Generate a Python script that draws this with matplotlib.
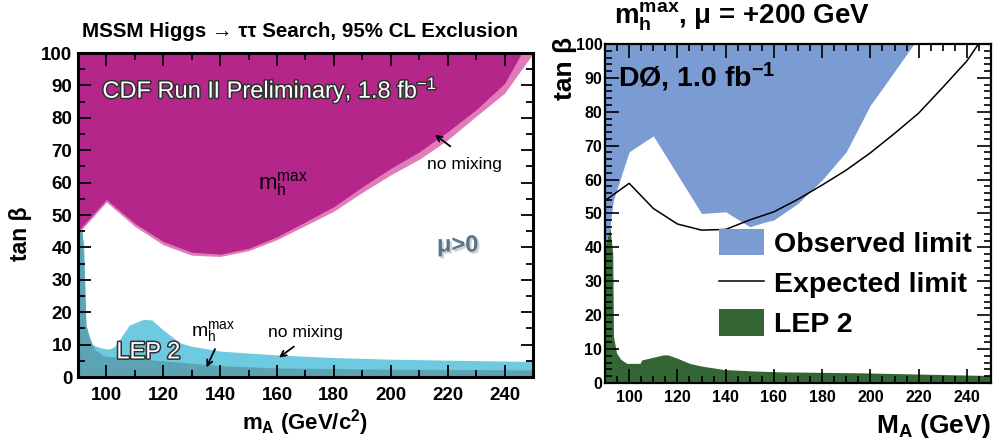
import matplotlib
matplotlib.use("Agg")
import matplotlib.pyplot as plt
import matplotlib.patheffects as pe
from matplotlib.ticker import MultipleLocator
from matplotlib.patches import Patch
from matplotlib.lines import Line2D

plt.rcParams['font.family'] = ['Liberation Sans', 'DejaVu Sans']
plt.rcParams['mathtext.fontset'] = 'custom'
plt.rcParams['mathtext.rm'] = 'Liberation Sans'
plt.rcParams['mathtext.it'] = 'Liberation Sans:italic'
plt.rcParams['mathtext.bf'] = 'Liberation Sans:bold'

# CDF tau-tau exclusion (lower edge of excluded region)
cdf_mA = [90, 91, 100, 110, 120, 130, 140, 150, 160, 170, 180, 190, 200, 210, 220, 230, 240, 246, 250]
cdf_mhmax = [45.0, 46.0, 54.8, 47.4, 41.8, 38.5, 37.9, 39.7, 43.3, 47.9, 52.6, 58.7, 64.4, 69.5, 75.7, 82.5, 90.6, 100, 100]
cdf_nomix = [44.5, 45.2, 54.0, 46.5, 40.8, 37.6, 37.2, 39.0, 42.4, 46.8, 51.2, 57.0, 62.4, 67.2, 73.2, 80.5, 87.6, 95.0, 99.8]

# LEP 2 exclusions shown in the CDF panel
lep_mA_mhmax = [90, 91.5, 92.3, 92.8, 94, 96, 99, 105, 120, 140, 160, 200, 250]
lep_mhmax = [45, 45, 30, 16, 12, 8.5, 6.5, 6.0, 5.0, 3.5, 2.8, 2.4, 2.2]
lep_mA_nomix = [90, 92, 92.8, 95, 98, 101, 103, 108, 113, 116, 120, 126, 130, 140, 160, 180, 200, 220, 250]
lep_nomix = [45, 42, 16, 10, 9, 8.6, 9.5, 16, 17.8, 17.6, 14.5, 10.5, 9.5, 8.0, 6.8, 6.0, 5.5, 5.2, 4.8]

# D0 observed / expected limits, mu = +200 GeV
d0_obs_mA = [90, 92, 93.5, 100, 110, 130, 140, 150, 157, 160, 170, 180, 190, 200, 205.5, 218]
d0_obs = [40.2, 46, 54, 68.2, 72.9, 50.0, 50.5, 46.1, 47.6, 48.1, 53, 59.9, 68.2, 82.0, 87.4, 100]
d0_exp_mA = [90, 100, 110, 120, 130, 140, 150, 160, 170, 180, 190, 200, 210, 220, 230, 240, 245]
d0_exp = [53.8, 58.9, 51.5, 46.9, 45.1, 45.3, 48.1, 50.5, 54.2, 58.4, 62.8, 67.9, 73.6, 79.6, 87.2, 95.0, 100.2]
d0_lep_mA = [90, 92, 93.2, 93.5, 94.8, 96.5, 99, 104.5, 105.2, 110, 114.2, 116, 120, 125, 130, 139, 150, 162, 196, 250]
d0_lep = [40.2, 46, 38.3, 13.7, 8.8, 7.0, 5.8, 5.8, 6.8, 7.6, 8.3, 8.3, 7.3, 5.8, 5.0, 4.0, 3.6, 3.3, 3.0, 2.2]

x_ticks = [100, 120, 140, 160, 180, 200, 220, 240]
y_ticks = [0, 10, 20, 30, 40, 50, 60, 70, 80, 90, 100]

fig = plt.figure(figsize=(9.93, 4.44), dpi=100)
ax1 = fig.add_axes([0.0785, 0.1509, 0.4583, 0.7297])
ax2 = fig.add_axes([0.6093, 0.1374, 0.3887, 0.7635])

outline = [pe.Stroke(linewidth=2.2, foreground='#303030'), pe.Normal()]

# ---- left: CDF ----
ax1.fill_between(cdf_mA, cdf_nomix, 100, color='#e07cb9', lw=0)
ax1.fill_between(cdf_mA, cdf_mhmax, 100, color='#b5268b', lw=0)
ax1.fill_between(lep_mA_nomix, 0, lep_nomix, color='#6dcae0', lw=0)
ax1.fill_between(lep_mA_mhmax, 0, lep_mhmax, color='#5ca3b3', lw=0)

ax1.set_xlim(90, 250)
ax1.set_ylim(0, 100)
ax1.set_xticks(x_ticks)
ax1.set_yticks(y_ticks)
ax1.xaxis.set_minor_locator(MultipleLocator(10))
ax1.yaxis.set_minor_locator(MultipleLocator(5))
ax1.tick_params(which='both', direction='in', top=True, right=True, width=1.3)
ax1.tick_params(which='major', length=9, labelsize=13.5, pad=4)
ax1.tick_params(axis='x', which='major', pad=7)
ax1.tick_params(which='minor', length=5)
for lab in ax1.get_xticklabels() + ax1.get_yticklabels():
    lab.set_fontweight('bold')
for s in ax1.spines.values():
    s.set_linewidth(2.2)

ax1.text(0.5, -0.094, r'$\mathbf{m}_\mathbf{A}$ (GeV/c$^\mathbf{2}$)', transform=ax1.transAxes,
         ha='center', va='top', fontsize=16, fontweight='bold')
fig.text(0.021, 0.473, 'tan β', rotation=90, ha='center', va='center', fontsize=16.5, fontweight='bold')
fig.text(0.302, 0.93, 'MSSM Higgs → ττ Search, 95% CL Exclusion', ha='center', va='center',
         fontsize=14.8, fontweight='bold')

ax1.text(98.6, 88.6, r'CDF Run II Preliminary, 1.8 fb$^{-1}$', color='white',
         fontsize=17, ha='left', va='center', path_effects=outline)
ax1.text(162, 59.5, r'm$_\mathrm{h}^\mathrm{max}$', fontsize=16, ha='center', va='center')
ax1.text(226, 65.7, 'no mixing', fontsize=12.6, ha='center', va='center')
ax1.annotate('', xy=(214.7, 75.3), xytext=(221.7, 70.7),
             arrowprops=dict(arrowstyle='->', color='black', lw=1.3))
ax1.text(223.5, 40.7, 'μ>0', color='#5b7287', fontsize=17, fontweight='bold', ha='center', va='center',
         path_effects=[pe.withSimplePatchShadow(offset=(1.5, -1.5), shadow_rgbFace='#9aa7b3', alpha=0.5)])
ax1.text(103.5, 7.6, 'LEP 2', color='white', fontsize=17, ha='left', va='center', path_effects=outline)
ax1.text(137.5, 14.0, r'm$_\mathrm{h}^\mathrm{max}$', fontsize=14, ha='center', va='center')
ax1.annotate('', xy=(134.8, 2.2), xytext=(138.6, 9.4),
             arrowprops=dict(arrowstyle='->', color='black', lw=1.3))
ax1.text(170, 13.8, 'no mixing', fontsize=12.6, ha='center', va='center')
ax1.annotate('', xy=(159.9, 5.5), xytext=(166.7, 9.9),
             arrowprops=dict(arrowstyle='->', color='black', lw=1.3))

# ---- right: D0 ----
ax2.fill_between(d0_obs_mA, d0_obs, 100, color='#7b9bd3', lw=0)
ax2.fill_between(d0_lep_mA, 0, d0_lep, color='#346634', lw=0)
ax2.plot(d0_exp_mA, d0_exp, color='black', lw=1.1)

ax2.set_xlim(90, 250)
ax2.set_ylim(0, 100)
ax2.set_xticks(x_ticks)
ax2.set_yticks(y_ticks)
ax2.xaxis.set_minor_locator(MultipleLocator(5))
ax2.yaxis.set_minor_locator(MultipleLocator(2))
ax2.tick_params(which='both', direction='in', top=True, right=True, width=1.2)
ax2.tick_params(which='major', length=10, labelsize=11.5, pad=2)
ax2.tick_params(axis='x', which='major', pad=5)
ax2.tick_params(which='minor', length=5)
for lab in ax2.get_xticklabels() + ax2.get_yticklabels():
    lab.set_fontweight('bold')
for s in ax2.spines.values():
    s.set_linewidth(1.6)

ax2.text(1.0, -0.085, r'$\mathbf{M}_\mathbf{A}$ (GeV)', transform=ax2.transAxes,
         ha='right', va='top', fontsize=19, fontweight='bold')
ax2.text(-0.105, 1.02, 'tan β', transform=ax2.transAxes, rotation=90, ha='center', va='top',
         fontsize=19, fontweight='bold')
fig.text(0.747, 0.962, r'$\mathbf{m}_\mathbf{h}^\mathbf{max}$, μ = +200 GeV', ha='center', va='center',
         fontsize=20, fontweight='bold')
ax2.text(95.5, 90.0, r'DØ, 1.0 fb$^\mathbf{-1}$', fontsize=20.5, fontweight='bold', ha='left', va='center')

handles = [Patch(facecolor='#7b9bd3', edgecolor='none'),
           Line2D([0], [0], color='black', lw=1.1),
           Patch(facecolor='#346634', edgecolor='none')]
leg = ax2.legend(handles, ['Observed limit', 'Expected limit', 'LEP 2'], loc='upper left',
                 bbox_to_anchor=(0.295, 0.455), frameon=False, fontsize=20.5,
                 handlelength=1.6, handleheight=1.05, handletextpad=0.35,
                 labelspacing=0.4, borderpad=0, borderaxespad=0)
for t in leg.get_texts():
    t.set_fontweight('bold')

fig.savefig('out.png', dpi=100)
